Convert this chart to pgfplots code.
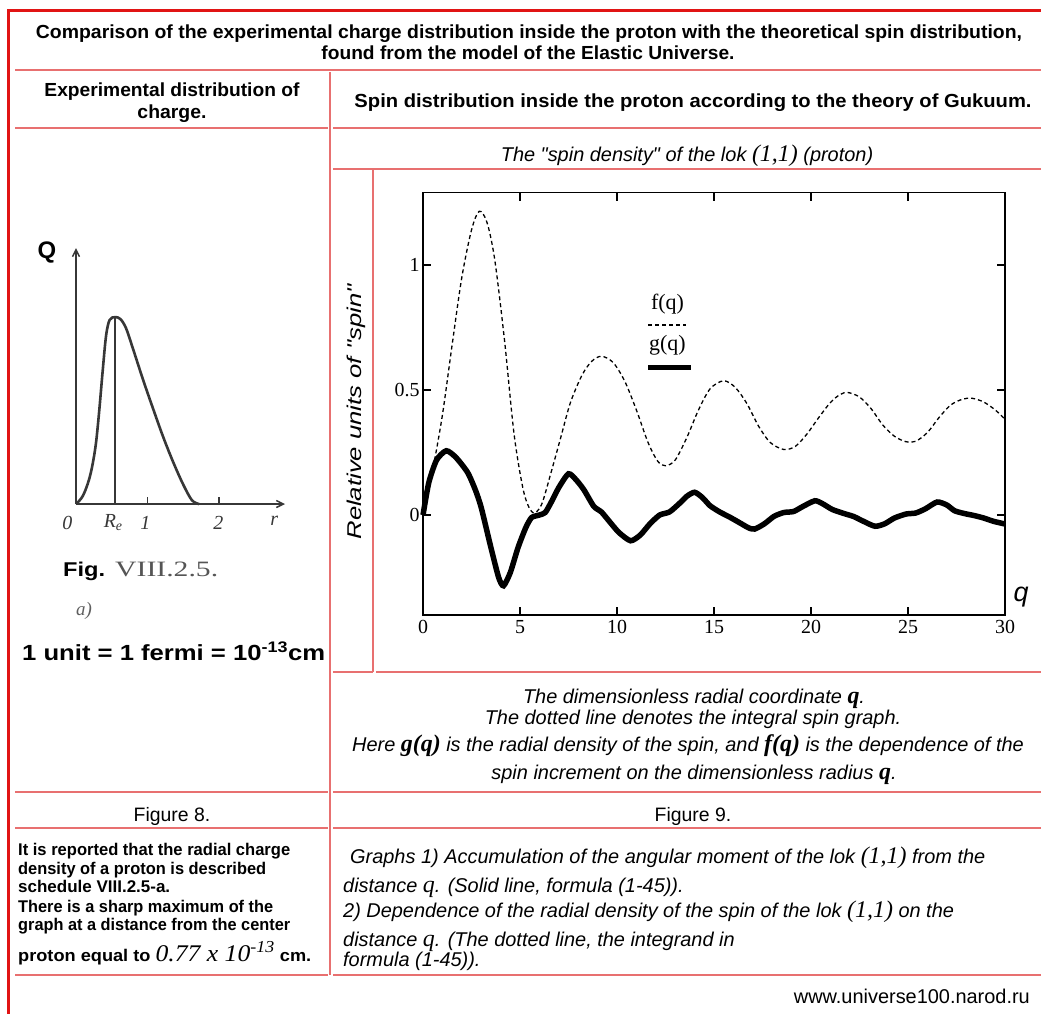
\documentclass[border=0pt]{standalone}
\usepackage{pgfplots}
\pgfplotsset{compat=1.18}
\usetikzlibrary{arrows.meta}
\usepackage{fontspec}
\setmainfont{Liberation Sans}
\newfontfamily\serif{Liberation Serif}
\definecolor{pinkline}{RGB}{232,112,112}
\definecolor{redline}{RGB}{225,20,20}
\definecolor{scan}{RGB}{55,55,55}
\newcommand{\fs}[1]{\fontsize{#1}{#1}\selectfont}
\newcommand{\Q}{{\serif\bfseries\itshape\fs{24}q}}
\newcommand{\LL}{{\serif\itshape\fs{24}(1,1)}}
\newcommand{\qd}{\textquotedbl}
% centred line: x-centre, baseline y, width, text
\newcommand{\ct}[4]{\node[anchor=base, inner sep=0pt] at (#1,-#2) {\resizebox{#3bp}{\height}{#4}};}
% left aligned line: x, baseline y, width, text
\newcommand{\lt}[4]{\node[anchor=base west, inner sep=0pt] at (#1,-#2) {\resizebox{#3bp}{\height}{#4}};}
% natural width versions
\newcommand{\cnat}[3]{\node[anchor=base, inner sep=0pt] at (#1,-#2) {#3};}
\newcommand{\lnat}[3]{\node[anchor=base west, inner sep=0pt] at (#1,-#2) {#3};}
\begin{document}
\begin{tikzpicture}[x=1bp,y=1bp]
\path[use as bounding box, fill=white] (0,0) rectangle (1041,-1014);
% ---------- table lines
\draw[redline, line width=3bp] (8.5,-1014) -- (8.5,-10) -- (1041,-10);
\begin{scope}[pinkline, line width=1.3bp]
\draw (15,-70) -- (1041,-70);
\draw (15,-128) -- (328,-128); \draw (333,-128) -- (1041,-128);
\draw (330,-72) -- (330,-975);
\draw (333,-169) -- (1041,-169);
\draw (373,-169) -- (373,-672);
\draw (333,-672) -- (373,-672); \draw (376,-672) -- (1041,-672);
\draw (15,-792) -- (328,-792); \draw (333,-792) -- (1041,-792);
\draw (15,-828) -- (328,-828); \draw (333,-828) -- (1041,-828);
\draw (15,-975) -- (328,-975); \draw (333,-975) -- (1041,-975);
\end{scope}
% ---------- texts
\ct{529}{38}{986}{\bfseries\fs{19}Comparison of the experimental charge distribution inside the proton with the theoretical spin distribution,}
\ct{528}{59}{413}{\bfseries\fs{19}found from the model of the Elastic Universe.}
\ct{172}{96}{255}{\bfseries\fs{19}Experimental distribution of}
\ct{172}{118}{69}{\bfseries\fs{19}charge.}
\ct{693}{107}{677}{\bfseries\fs{19}Spin distribution inside the proton according to the theory of Gukuum.}
\cnat{687}{161}{\itshape\fs{20}The \qd spin density\qd{} of the lok \LL{} (proton)}
\cnat{694}{703}{\itshape\fs{20}The dimensionless radial coordinate \Q.}
\cnat{693}{724}{\itshape\fs{20}The dotted line denotes the integral spin graph.}
\cnat{688}{751}{\itshape\fs{20}Here {\serif\bfseries\itshape\fs{24}g(q)} is the radial density of the spin, and {\serif\bfseries\itshape\fs{24}f(q)} is the dependence of the}
\cnat{694}{779}{\itshape\fs{20}spin increment on the dimensionless radius \Q.}
\cnat{172}{821}{\fs{19.5}Figure 8.}
\cnat{693}{821}{\fs{19.5}Figure 9.}
\lt{18}{855}{272}{\bfseries\fs{17}It is reported that the radial charge}
\lt{18}{874}{248}{\bfseries\fs{17}density of a proton is described}
\lt{18}{892}{152}{\bfseries\fs{17}schedule VIII.2.5-a.}
\lt{18}{912}{255}{\bfseries\fs{17}There is a sharp maximum of the}
\lt{18}{930}{272}{\bfseries\fs{17}graph at a distance from the center}
\lt{18}{961}{293}{\bfseries\fs{17}proton equal to {\serif\itshape\mdseries\fs{24}0.77 x 10\textsuperscript{-13}} cm.}
\lnat{350}{863}{\itshape\fs{20}Graphs 1) Accumulation of the angular moment of the lok \LL{} from the}
\lnat{343}{892}{\itshape\fs{20}distance {\serif\itshape\fs{24}q}. (Solid line, formula (1-45)).}
\lnat{343}{917}{\itshape\fs{20}2) Dependence of the radial density of the spin of the lok \LL{} on the}
\lnat{343}{946}{\itshape\fs{20}distance {\serif\itshape\fs{24}q}. (The dotted line, the integrand in}
\lnat{343}{966}{\itshape\fs{20}formula (1-45)).}
\node[anchor=base east, inner sep=0pt] at (1030,-1003) {\fs{20}www.universe100.narod.ru};
% left figure labels
\node[font=\bfseries\fs{24}] at (47,-252) {Q};
\lt{63}{576}{42}{\bfseries\fs{20}Fig.}
\lt{115}{576}{103}{\serif\fs{22}\color{scan!85}VIII.2.5.}
\node[font=\serif\itshape\fs{19}, text=scan!80] at (84,-611) {a)};
\lt{22}{660}{303}{\bfseries\fs{22}1 unit = 1 fermi = 10\textsuperscript{-13}cm}
\node[font=\itshape\fs{27}] at (1021,-597) {q};
\node[rotate=90, inner sep=0pt] at (356,-412) {\resizebox{255bp}{\height}{\itshape\fs{20}Relative units of \qd spin\qd}};
% ---------- left plot (scan)
\begin{axis}[at={(76bp,-504bp)}, anchor=south west, scale only axis,
  width=209bp, height=256bp, xmin=0, xmax=2.92, ymin=0, ymax=1.37,
  axis lines=left, clip=false,
  axis line style={line width=1.5bp, draw=scan, -{Straight Barb[length=7bp,width=7bp]}},
  xtick={1,2}, xticklabels={}, ytick=\empty, tick align=inside,
  major tick length=7bp, tick style={line width=1.5bp, draw=scan}]
\addplot[scan, line width=2.6bp, smooth, tension=0.55] coordinates {
(0,0) (0.098,0.045) (0.196,0.15) (0.27,0.3) (0.32,0.48) (0.37,0.7)
(0.42,0.9) (0.47,0.985) (0.545,1.0) (0.62,0.99) (0.7,0.94) (0.797,0.83)
(0.937,0.665) (1.077,0.51) (1.217,0.36) (1.357,0.225) (1.497,0.105) (1.62,0.02) (1.72,0)};
\addplot[scan, line width=1.5bp] coordinates {(0.545,0) (0.545,1.0)};
\node[font=\serif\itshape\fs{20}, text=scan] at (axis cs:-0.12,-0.1) {0};
\node[font=\serif\itshape\fs{20}, text=scan] at (axis cs:0.52,-0.1) {R\textsubscript{e}};
\node[font=\serif\itshape\fs{20}, text=scan] at (axis cs:0.97,-0.1) {1};
\node[font=\serif\itshape\fs{20}, text=scan] at (axis cs:1.99,-0.1) {2};
\node[font=\serif\itshape\fs{20}, text=scan] at (axis cs:2.77,-0.09) {r};
\end{axis}
% ---------- right plot
\begin{axis}[at={(423bp,-615bp)}, anchor=south west, scale only axis,
  width=582bp, height=422.5bp, xmin=0, xmax=30, ymin=-0.4, ymax=1.29,
  xtick={0,5,...,30}, ytick={0,0.5,1}, tick align=inside,
  major tick length=8bp, tick style={line width=1.1bp, black},
  axis line style={line width=1.1bp},
  /pgf/number format/assume math mode=true,
  tick label style={font=\serif\fs{20}},
  xticklabel style={yshift=-2bp},
  clip=false]
\addplot[black, line width=1.3bp, dash pattern=on 4bp off 3bp, smooth] coordinates {
(0,0) (0.5,0.18) (1.0,0.4) (1.5,0.68) (2.0,0.95) (2.5,1.14) (2.9,1.215) (3.3,1.17)
(3.7,1.02) (4.2,0.7) (4.7,0.32) (5.2,0.09) (5.65,0.01) (6.1,0.04) (6.6,0.17) (7.1,0.31)
(7.6,0.45) (8.2,0.56) (8.7,0.615) (9.2,0.635) (9.8,0.61) (10.4,0.535) (11.0,0.42)
(11.6,0.29) (12.1,0.215) (12.5,0.197) (13.0,0.22) (13.6,0.31) (14.2,0.42) (14.8,0.505)
(15.5,0.537) (16.1,0.51) (16.7,0.445) (17.3,0.355) (17.9,0.29) (18.6,0.262) (19.2,0.275)
(19.8,0.325) (20.4,0.39) (21.0,0.45) (21.5,0.482) (21.9,0.49) (22.5,0.472) (23.1,0.425)
(23.7,0.36) (24.3,0.315) (24.9,0.293) (25.4,0.295) (26.0,0.33) (26.6,0.39) (27.2,0.44)
(27.8,0.463) (28.3,0.467) (28.9,0.452) (29.5,0.42) (30,0.383)};
\addplot[black, line width=5.5bp, smooth, tension=0.4] coordinates {
(0,0) (0.3,0.13) (0.7,0.22) (1.2,0.257) (1.7,0.23) (2.3,0.17) (2.7,0.1) (3.0,0.03)
(3.5,-0.13) (3.9,-0.25) (4.15,-0.283) (4.5,-0.23) (4.9,-0.13) (5.3,-0.05) (5.6,-0.01)
(6.0,0.0) (6.3,0.01) (6.6,0.05) (7.0,0.11) (7.5,0.165) (7.9,0.14) (8.3,0.1) (8.8,0.035)
(9.2,0.012) (9.6,-0.025) (10.1,-0.07) (10.7,-0.103) (11.2,-0.08) (11.7,-0.035)
(12.2,0.0) (12.7,0.012) (13.2,0.045) (13.6,0.075) (14.0,0.091) (14.4,0.07) (14.8,0.037)
(15.3,0.012) (15.8,-0.008) (16.3,-0.03) (16.8,-0.052) (17.1,-0.056) (17.6,-0.035)
(18.1,-0.005) (18.6,0.01) (19.1,0.014) (19.6,0.035) (20.2,0.057) (20.6,0.045)
(21.1,0.022) (21.7,0.006) (22.2,-0.006) (22.7,-0.025) (23.3,-0.045) (23.8,-0.035)
(24.3,-0.012) (24.9,0.004) (25.4,0.008) (25.9,0.025) (26.5,0.052) (27.0,0.04)
(27.4,0.017) (27.9,0.006) (28.4,-0.002) (28.9,-0.012) (29.4,-0.025) (30,-0.036)};
% legend samples
\addplot[black, line width=1.3bp, dash pattern=on 4bp off 3bp] coordinates {(11.6,0.76) (13.56,0.76)};
\addplot[black, line width=5.5bp] coordinates {(11.6,0.59) (13.8,0.59)};
\node[font=\serif\fs{22}] at (axis cs:12.6,0.845) {f(q)};
\node[font=\serif\fs{22}] at (axis cs:12.6,0.677) {g(q)};
\end{axis}
\end{tikzpicture}
\end{document}
